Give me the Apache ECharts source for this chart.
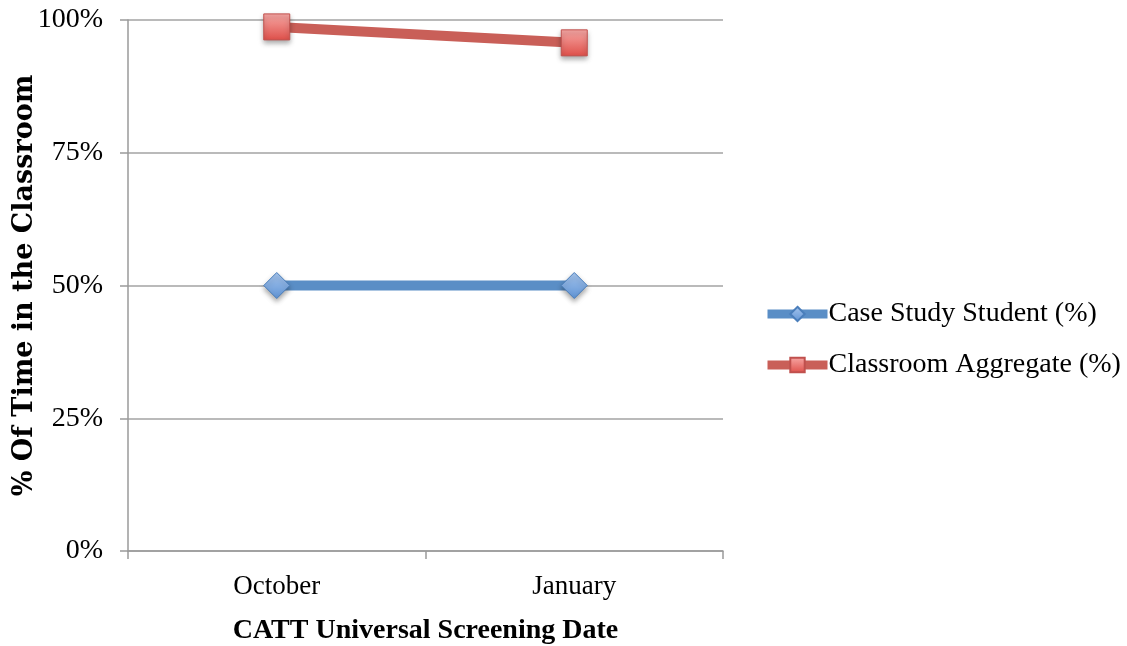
<!DOCTYPE html>
<html lang="en">
<head>
  <meta charset="UTF-8">
  <title>CATT Universal Screening</title>
  <script src="https://cdn.jsdelivr.net/npm/echarts@6/dist/echarts.min.js"></script>
  <style>
    html, body { margin: 0; padding: 0; background: #fff; }
    #main { width: 1127px; height: 646px; }
  </style>
</head>
<body>
<div id="main"></div>
<script>
  // data
  var dates = ['October', 'January'];
  var caseStudent = [50, 50];
  var classAggregate = [98.7, 95.7];
  var yTicks = [0, 25, 50, 75, 100];

  var serifFont = '"Liberation Serif", "DejaVu Serif", serif';

  var chartDom = document.getElementById('main');
  var myChart = echarts.init(chartDom);
  var option;

  function grad(top, bottom) {
    return new echarts.graphic.LinearGradient(0, 0, 0, 1, [
      {offset: 0, color: top},
      {offset: 1, color: bottom}
    ]);
  }

  option = {
    backgroundColor: '#fff',
    animation: false,
    textStyle: { fontFamily: serifFont, color: '#000' },
    grid: {
      left: 128,
      right: 404,
      top: 20,
      bottom: 95,
      containLabel: false,
      outerBoundsMode: 'none'
    },
    legend: {
      orient: 'vertical',
      left: 763,
      top: 300,
      itemWidth: 60,
      itemHeight: 18,
      itemGap: 23,
      padding: 0,
      lineStyle: { width: 9 },
      textStyle: { fontFamily: serifFont, fontSize: 28, color: '#000', padding: [0, 0, 0, -4] },
      data: ['Case Study Student (%)', 'Classroom Aggregate (%)']
    },
    xAxis: {
      type: 'category',
      data: dates,
      boundaryGap: true,
      name: 'CATT Universal Screening Date',
      nameLocation: 'middle',
      nameGap: 66,
      nameTextStyle: { fontFamily: serifFont, fontSize: 28, fontWeight: 'bold', color: '#000' },
      axisLine: { lineStyle: { color: '#9a9a9a', width: 1.5 } },
      axisTick: { show: true, interval: 0, length: 8, lineStyle: { color: '#9a9a9a', width: 1.5 } },
      axisLabel: { fontFamily: serifFont, fontSize: 27, color: '#000', margin: 22 }
    },
    yAxis: {
      type: 'value',
      min: yTicks[0],
      max: yTicks[yTicks.length - 1],
      interval: 25,
      name: '% Of Time in the Classroom',
      nameLocation: 'middle',
      nameGap: 90,
      nameMoveOverlap: false,
      nameTextStyle: { fontFamily: '"DejaVu Serif", serif', fontSize: 27, fontWeight: 'bold', color: '#000' },
      axisLine: { show: true, lineStyle: { color: '#9a9a9a', width: 1.5 } },
      axisTick: { show: true, length: 8, lineStyle: { color: '#9a9a9a', width: 1.5 } },
      splitLine: { lineStyle: { color: '#a3a3a3', width: 1.5 } },
      axisLabel: { fontFamily: serifFont, fontSize: 28, color: '#000', margin: 25, formatter: '{value}%' }
    },
    series: [
      {
        name: 'Case Study Student (%)',
        type: 'line',
        data: caseStudent,
        symbol: 'diamond',
        symbolSize: 26,
        lineStyle: { color: '#5a8ec6', width: 10 },
        itemStyle: {
          color: grad('#a7c6ee', '#5f93d4'),
          borderColor: '#4a7ebb',
          borderWidth: 1,
          shadowBlur: 5,
          shadowOffsetY: 3,
          shadowColor: 'rgba(0,0,0,0.35)'
        }
      },
      {
        name: 'Classroom Aggregate (%)',
        type: 'line',
        data: classAggregate,
        symbol: 'rect',
        symbolSize: 26,
        lineStyle: { color: '#c95f58', width: 10 },
        itemStyle: {
          color: grad('#f7a9a6', '#de4f49'),
          borderColor: '#c0504d',
          borderWidth: 1,
          shadowBlur: 5,
          shadowOffsetY: 3,
          shadowColor: 'rgba(0,0,0,0.35)'
        }
      }
    ]
  };

  option && myChart.setOption(option);
</script>
</body>
</html>
